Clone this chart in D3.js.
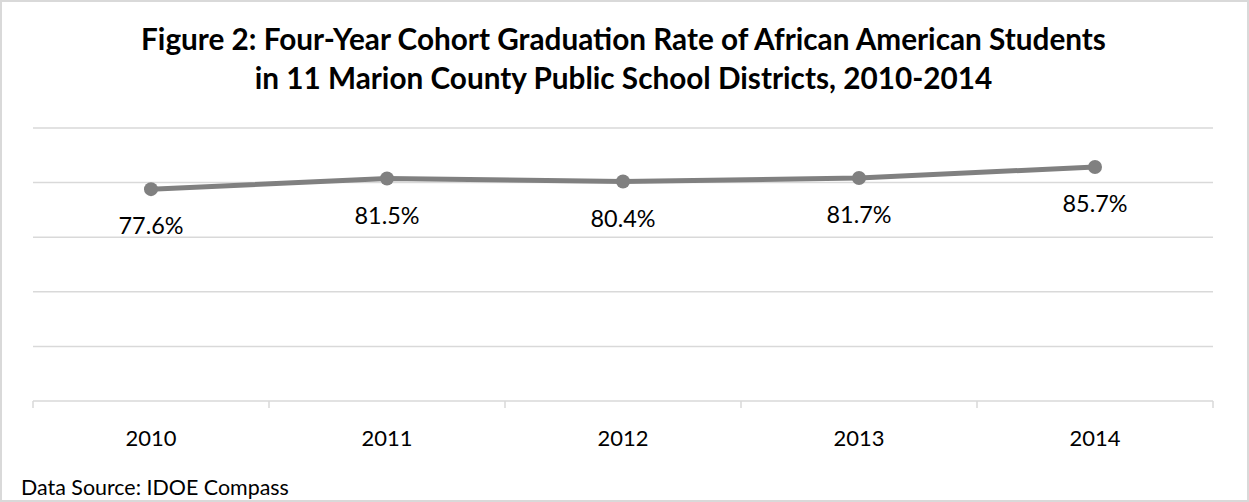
<!DOCTYPE html>
<html><head><meta charset="utf-8">
<script src="https://cdn.jsdelivr.net/npm/d3@7"></script>
<style>body{margin:0;background:#fff}svg{display:block}</style>
</head><body>
<script>
const categories = ["2010","2011","2012","2013","2014"];
const values = [77.6, 81.5, 80.4, 81.7, 85.7];
const labels = ["77.6%","81.5%","80.4%","81.7%","85.7%"];
const yTicks = [0,20,40,60,80,100];
const titleLines = ["Figure 2: Four-Year Cohort Graduation Rate of African American Students","in 11 Marion County Public School Districts, 2010-2014"];
const sourceText = "Data Source: IDOE Compass";

const W=1249,H=502;
const font = "Lato, 'Open Sans', sans-serif";
const svg=d3.select("body").append("svg").attr("width",W).attr("height",H);
svg.append("rect").attr("x",1).attr("y",1).attr("width",W-2).attr("height",H-2)
  .attr("fill","#fff").attr("stroke","#d9d9d9").attr("stroke-width",2);

function fit(sel, base, target){
  const n=sel.nodes()[0];
  const l=n.getComputedTextLength();
  sel.attr("font-size", base*target/l);
}

const x=d3.scaleBand().domain(categories).range([33,1213]);
const y=d3.scaleLinear().domain([0,100]).range([401,128]);

svg.append("g").selectAll("line").data(yTicks.filter(d=>d>0)).join("line")
  .attr("x1",33).attr("x2",1213).attr("y1",d=>y(d)).attr("y2",d=>y(d))
  .attr("stroke","#d9d9d9").attr("stroke-width",1.5);

const xa=svg.append("g").attr("transform","translate(0,401)")
  .call(d3.axisBottom(x).tickSize(0).tickPadding(0));
xa.select(".domain").attr("stroke","#d9d9d9").attr("stroke-width",1.5).attr("d","M33,0H1213");
const xt=xa.selectAll("text").attr("font-family",font).attr("font-size",20).attr("fill","#000")
  .attr("dy",null).attr("y",45);
fit(xt,20,51);
const bounds = categories.map(c=>x(c)).concat([x.range()[1]]);
xa.append("g").selectAll("line").data(bounds).join("line")
  .attr("x1",d=>d).attr("x2",d=>d).attr("y1",0).attr("y2",7)
  .attr("stroke","#d9d9d9").attr("stroke-width",1.5);

const cx=(d,i)=>x(categories[i])+x.bandwidth()/2;
const line=d3.line().x((d,i)=>cx(d,i)).y(d=>y(d));
svg.append("path").datum(values).attr("d",line).attr("fill","none")
  .attr("stroke","#808080").attr("stroke-width",5).attr("stroke-linejoin","round");
svg.append("g").selectAll("circle").data(values).join("circle")
  .attr("cx",cx).attr("cy",d=>y(d)).attr("r",7).attr("fill","#808080");
const dl=svg.append("g").selectAll("text").data(values).join("text")
  .attr("x",cx).attr("y",d=>y(d)+45).attr("text-anchor","middle")
  .attr("font-family",font).attr("font-size",21).attr("fill","#000")
  .text((d,i)=>labels[i]);
fit(dl,21,65);

const tl=svg.append("g").selectAll("text").data(titleLines).join("text")
  .attr("x",W/2-1).attr("y",(d,i)=>50+i*39).attr("text-anchor","middle")
  .attr("font-family",font).attr("font-weight","bold").attr("font-size",25).attr("fill","#000")
  .text(d=>d);
fit(tl,25,965);

const src=svg.append("text").attr("x",21).attr("y",495).attr("font-family",font)
  .attr("font-size",17).attr("fill","#000").text(sourceText);
fit(src,17,268);
</script>
</body></html>
